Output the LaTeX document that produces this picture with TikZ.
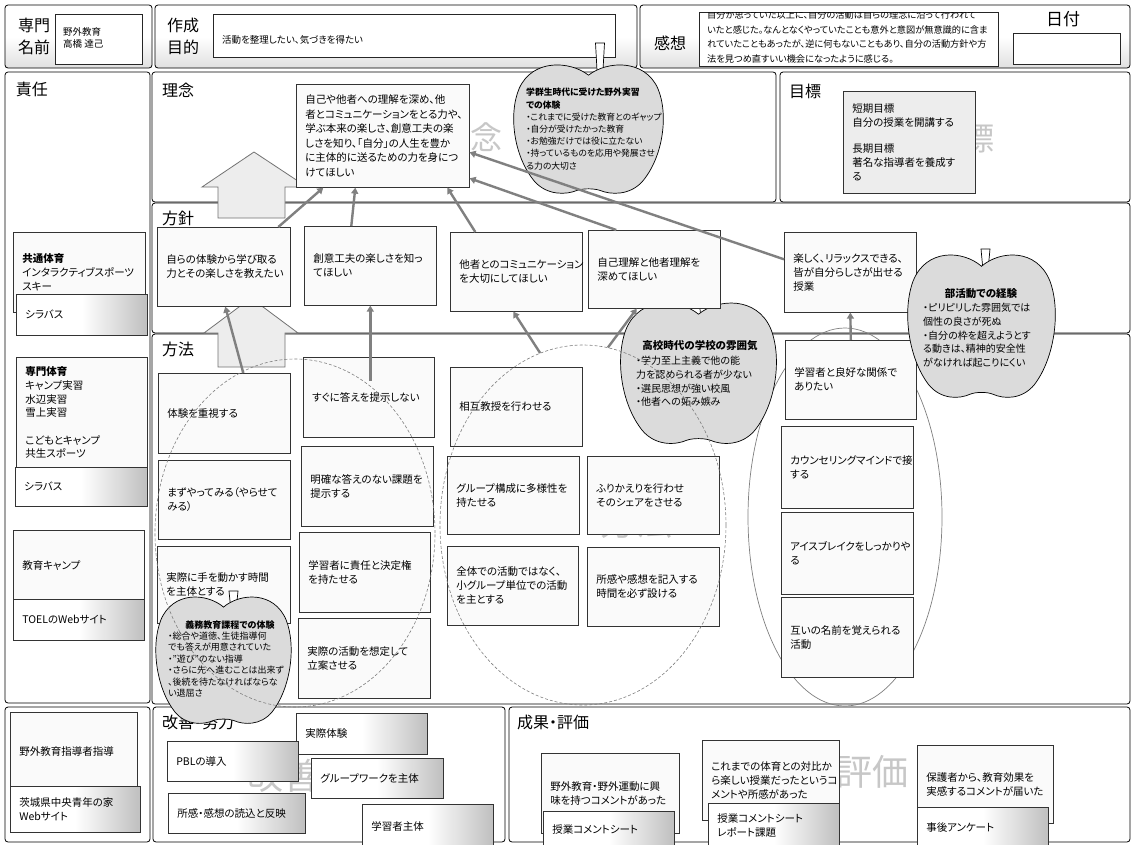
\documentclass[tikz,border=0pt]{standalone}
\usepackage{fontspec}
\setmainfont{Noto Sans CJK JP}[RawFeature=+palt]
\usetikzlibrary{arrows.meta,shapes.geometric}
\newcommand\drawbx[7][]{%
  \pgfmathsetmacro\bxw{#5-#3}%
  \pgfmathsetmacro\bxh{#6-#4}%
  \pgfmathsetmacro\bxt{#5-#3-18}%
  \node[bx,#1,anchor=north west,minimum width=\bxw pt,minimum height=\bxh pt,text width=\bxt pt] (#2) at (#3,#4) {#7};}
\newcommand\drawapple[6]{%
  \pgfmathsetmacro\apdip{#2-0.8*#4+4}%
  \draw[stemsty] (#5-4.5,#6) -- (#5+4.5,#6) -- (#5+2.5,\apdip) -- (#5-2.5,\apdip) -- cycle;
  \begin{scope}[shift={(#1,#2)},xscale=#3,yscale=#4]
  \draw[applesty] (0,-0.8) .. controls (0.25,-1.02) and (0.75,-1.05) .. (0.93,-0.6)
   .. controls (1.08,-0.2) and (1.0,0.45) .. (0.72,0.82)
   .. controls (0.55,1.03) and (0.3,1.02) .. (0.15,0.95)
   .. controls (0.07,0.92) and (-0.07,0.92) .. (-0.15,0.95)
   .. controls (-0.3,1.02) and (-0.55,1.03) .. (-0.72,0.82)
   .. controls (-1.0,0.45) and (-1.08,-0.2) .. (-0.93,-0.6)
   .. controls (-0.75,-1.05) and (-0.25,-1.02) .. (0,-0.8) -- cycle;
  \end{scope}}
\begin{document}
\begin{tikzpicture}[x=1pt,y=-1pt,
  frame/.style={draw=black,line width=0.8pt,rounded corners=3pt,fill=white},
  hframe/.style={draw=black,line width=0.8pt,rounded corners=3pt,top color=white,bottom color=black!12,middle color=white},
  ibox/.style={draw=black!85,line width=0.7pt,fill=white},
  bx/.style={draw=black!80,line width=0.6pt,fill=black!2,inner xsep=9pt,inner ysep=1pt,align=left,font=\fontsize{10.5}{14}\selectfont},
  bxg/.style={left color=white,right color=black!25,middle color=white},
  lbl/.style={font=\fontsize{16}{18}\selectfont,inner sep=0pt},
  wm/.style={text=black!22,inner sep=0pt},
  txt/.style={align=left,inner sep=0pt},
  applesty/.style={draw=black,line width=0.7pt,fill=black!14},
  stemsty/.style={draw=black,line width=0.7pt,fill=white},
  bigarr/.style={draw=black!55,line width=0.8pt,fill=black!7,line join=miter},
  dell/.style={ellipse,draw=black!50,line width=0.6pt,dash pattern=on 3pt off 2pt,inner sep=0pt},
  sell/.style={ellipse,draw=black!50,line width=0.7pt,inner sep=0pt},
  conn/.style={draw=black!50,line width=2.4pt,-{Triangle[length=6pt,width=7pt]}}]
\useasboundingbox (0,0) rectangle (1132,844);
\fill[white] (0,0) rectangle (1132,844);

% ---------- header ----------
\draw[hframe] (5,5) rectangle (152,68);
\node[lbl] (l1) at (34,25) {専門};
\node[lbl] (l2) at (34,47) {名前};
\draw[ibox] (55,14) rectangle (142,64);
\node[txt,anchor=west,font=\fontsize{9.5}{12}\selectfont] (nm) at (63,38) {野外教育\\高橋 達己};

\draw[hframe] (155,5) rectangle (637,68);
\node[lbl] (l3) at (183,25) {作成};
\node[lbl] (l4) at (183,47) {目的};
\draw[ibox] (213,14) rectangle (615,57);
\node[txt,anchor=west,font=\fontsize{9.5}{12}\selectfont] (pur) at (222,40) {活動を整理したい、気づきを得たい};

\draw[hframe] (640,5) rectangle (1130,68);
\node[lbl] (l5) at (670,43) {感想};
\draw[ibox] (699,12) rectangle (998,66);
\begin{scope}
\clip (699,12) rectangle (998,66);
\node[txt,anchor=north west,font=\fontsize{9.2}{14.7}\selectfont] (kan) at (707,10.5) {自分が思っていた以上に、自分の活動は自らの理念に沿って行われて\\いたと感じた。なんとなくやっていたことも意外と意図が無意識的に含ま\\れていたこともあったが、逆に何もないこともあり、自分の活動方針や方\\法を見つめ直すいい機会になったように感じる。};
\end{scope}
\node[lbl,font=\fontsize{17}{19}\selectfont] (l6) at (1063,19) {日付};
\draw[ibox] (1013,33) rectangle (1120,64);

% ---------- section frames ----------
\draw[frame] (5,72) rectangle (150,703);
\draw[frame] (152,72) rectangle (776,202);
\draw[frame] (780,72) rectangle (1130,202);
\draw[frame] (152,203) rectangle (1130,333);
\draw[frame] (152,334) rectangle (1130,704);
\draw[frame] (5,707) rectangle (150,842);
\draw[frame] (153,707) rectangle (505,842);
\draw[frame] (509,707) rectangle (1130,842);

% watermarks
\node[wm,font=\fontsize{32}{34}\selectfont] (w1) at (470,137) {理念};
\node[wm,font=\fontsize{32}{34}\selectfont] (w2) at (962,138) {目標};
\node[wm,font=\fontsize{36}{38}\selectfont] (w3) at (636,522) {方法};
\node[wm,font=\fontsize{36}{38}\selectfont] (w4) at (328,776) {改善・努力};
\node[wm,font=\fontsize{36}{38}\selectfont] (w5) at (827,772) {成果・評価};

% labels
\node[lbl] (s1) at (32,89) {責任};
\node[lbl] (s2) at (178,90) {理念};
\node[lbl] (s3) at (805,91) {目標};
\node[lbl] (s4) at (178,218) {方針};
\node[lbl] (s5) at (178,349) {方法};
\node[lbl] (s6) at (198,722) {改善・努力};
\node[lbl] (s7) at (553,722) {成果・評価};

% solid ellipse behind right column
\node[sell,minimum width=194pt,minimum height=378pt] (e3) at (845,517) {};

% big arrows
\draw[bigarr] (254,152) -- (307,187) -- (285,187) -- (285,218) -- (218,218) -- (218,187) -- (202,187) -- cycle;
\draw[bigarr] (251,298) -- (298,333) -- (285,333) -- (285,367) -- (218,367) -- (218,333) -- (204,333) -- cycle;

% apple behind P4
\drawapple{698.5}{371.8}{77.6}{72}{703.5}{300}

% ---------- boxes ----------
% responsibility column
\drawbx{k1}{13}{232}{145}{312}{\textbf{共通体育}\\インタラクティブスポーツ\\スキー}
\drawbx[bxg]{k2}{16}{294}{147}{335}{シラバス}
\drawbx[font=\fontsize{10.5}{13.7}\selectfont]{k3}{16}{357}{147}{468}{\textbf{専門体育}\\キャンプ実習\\水辺実習\\雪上実習\\[13.7pt]こどもとキャンプ\\共生スポーツ}
\drawbx[bxg]{k4}{15}{467}{147}{506}{シラバス}
\drawbx{k5}{13}{530}{144}{600}{教育キャンプ}
\drawbx[bxg]{k6}{13}{599}{144}{640}{TOELのWebサイト}
\drawbx{k7}{10}{712}{137}{790}{野外教育指導者指導}
\drawbx[bxg]{k8}{10}{786}{140}{832}{茨城県中央青年の家\\Webサイト}

% rinen
\drawbx[font=\fontsize{10.5}{14.6}\selectfont]{rn}{296}{84}{469}{187}{自己や他者への理解を深め、他\\者とコミュニケーションをとる力や、\\学ぶ本来の楽しさ、創意工夫の楽\\しさを知り、「自分」の人生を豊か\\に主体的に送るための力を身につ\\けてほしい}
% mokuhyo
\drawbx[fill=black!7]{mk}{843}{91}{975}{193}{短期目標\\自分の授業を開講する\\[12pt]長期目標\\著名な指導者を養成す\\る}

% hoshin
\drawbx{P1}{157}{227}{290}{306}{自らの体験から学び取る\\力とその楽しさを教えたい}
\drawbx{P2}{304}{226}{436}{305}{創意工夫の楽しさを知っ\\てほしい}
\drawbx{P3}{450}{232}{582}{311}{他者とのコミュニケーション\\を大切にしてほしい}
\drawbx{P4}{588}{230}{720}{308}{自己理解と他者理解を\\深めてほしい}
\drawbx{P5}{784}{232}{916}{312}{楽しく、リラックスできる、\\皆が自分らしさが出せる\\授業}

% hoho
\drawbx{M1}{158}{373}{290}{453}{体験を重視する}
\drawbx{M2}{158}{460}{290}{539}{まずやってみる（やらせて\\みる）}
\drawbx{M3}{157}{546}{290}{623}{実際に手を動かす時間\\を主体とする}
\drawbx{M4}{303}{357}{434}{437}{すぐに答えを提示しない}
\drawbx{M5}{301}{446}{433}{526}{明確な答えのない課題を\\提示する}
\drawbx{M6}{299}{532}{430}{612}{学習者に責任と決定権\\を持たせる}
\drawbx{M7}{298}{618}{430}{698}{実際の活動を想定して\\立案させる}
\drawbx{M8}{450}{367}{582}{446}{相互教授を行わせる}
\drawbx{M9}{447}{456}{579}{534}{グループ構成に多様性を\\持たせる}
\drawbx{M10}{587}{456}{719}{534}{ふりかえりを行わせ\\そのシェアをさせる}
\drawbx{M11}{447}{546}{578}{625}{全体での活動ではなく、\\小グループ単位での活動\\を主とする}
\drawbx{M12}{587}{547}{719}{626}{所感や感想を記入する\\時間を必ず設ける}
\drawbx{M13}{785}{340}{916}{419}{学習者と良好な関係で\\ありたい}
\drawbx{M14}{781}{426}{913}{508}{カウンセリングマインドで接\\する}
\drawbx{M15}{781}{512}{913}{594}{アイスブレイクをしっかりや\\る}
\drawbx{M16}{781}{597}{913}{677}{互いの名前を覚えられる\\活動}

% kaizen
\drawbx[bxg]{K1}{296}{713}{427}{754}{実際体験}
\drawbx[bxg]{K2}{167}{741}{298}{781}{PBLの導入}
\drawbx[bxg]{K3}{311}{758}{443}{798}{グループワークを主体}
\drawbx[bxg]{K4}{168}{793}{305}{833}{所感・感想の読込と反映}
\drawbx[bxg]{K5}{362}{804}{493}{848}{学習者主体}

% seika
\drawbx{R1}{541}{753}{679}{833}{野外教育・野外運動に興\\味を持つコメントがあった}
\drawbx[bxg]{R1s}{543}{811}{674}{848}{授業コメントシート}
\drawbx{R2}{702}{740}{839}{820}{これまでの体育との対比か\\ら楽しい授業だったというコ\\メントや所感があった}
\drawbx[bxg]{R2s}{708}{803}{839}{848}{授業コメントシート\\レポート課題}
\drawbx{R3}{917}{745}{1053}{823}{保護者から、教育効果を\\実感するコメントが届いた}
\drawbx[bxg]{R3s}{917}{807}{1048}{848}{事後アンケート}

% ---------- apples ----------
\node[font=\bfseries\fontsize{10.5}{13}\selectfont,inner sep=0pt] (a3h) at (700,346) {高校時代の学校の雰囲気};
\node[txt,anchor=west,font=\fontsize{10}{13.7}\selectfont] (a3t) at (636,381.5) {・学力至上主義で他の能\\力を認められる者が少ない\\・選民思想が強い校風\\・他者への妬み嫉み};

\drawapple{588.5}{127.8}{74.5}{65.8}{600}{43}
\node[txt,anchor=west,font=\fontsize{8.8}{12.2}\selectfont] (a1t) at (526,129) {\textbf{学群生時代に受けた野外実習}\\\textbf{での体験}\\・これまでに受けた教育とのギャップ\\・自分が受けたかった教育\\・お勉強だけでは役に立たない\\・持っているものを応用や発展させ\\る力の大切さ};

\drawapple{223.5}{658.9}{67.4}{64.8}{233.5}{591}
\node[font=\bfseries\fontsize{9}{11}\selectfont,inner sep=0pt] (a2h) at (230,625) {義務教育課程での体験};
\node[txt,anchor=west,font=\fontsize{9}{11.4}\selectfont] (a2t) at (168,664.5) {・総合や道徳、生徒指導何\\でも答えが用意されていた\\・”遊び”のない指導\\・さらに先へ進むことは出来ず\\、後続を待たなければならな\\い退屈さ};

\drawapple{981.5}{324.7}{73.5}{73}{985.5}{249}
\node[font=\bfseries\fontsize{10.5}{13}\selectfont,inner sep=0pt] (a4h) at (981,294) {部活動での経験};
\node[txt,anchor=west,font=\fontsize{10}{13.7}\selectfont] (a4t) at (923,335.5) {・ピリピリした雰囲気では\\個性の良さが死ぬ\\・自分の枠を超えようとす\\る動きは、精神的安全性\\がなければ起こりにくい};

% dashed ellipses
\node[dell,minimum width=280pt,minimum height=348pt] (e1) at (295,533) {};
\node[dell,minimum width=286pt,minimum height=360pt] (e2) at (583,525) {};

% ---------- connectors ----------
\draw[conn] ([xshift=54.5pt]P1.north) -- ([xshift=-59.5pt]rn.south);
\draw[conn] ([xshift=-19pt]P2.north) -- ([xshift=-27.5pt]rn.south);
\draw[conn] ([xshift=-41pt]P3.north) -- ([xshift=64.5pt]rn.south);
\draw[conn] ([xshift=-38pt]P4.north) -- ([yshift=-42.5pt]rn.east);
\draw[conn] ([yshift=13pt]P5.west) -- ([yshift=-16.5pt]rn.east);
\draw[conn] ([xshift=19pt]M1.north) -- ([xshift=1.5pt]P1.south);
\draw[conn] ([xshift=1.5pt,yshift=-24pt]M4.north) -- (P2.south);
\draw[conn] (e2.104) -- ([xshift=-3pt]P3.south);
\draw[conn] (e2.82) -- ([xshift=-17.5pt]P4.south);
\draw[conn] (M13.north) -- (P5.south);
\end{tikzpicture}
\end{document}
